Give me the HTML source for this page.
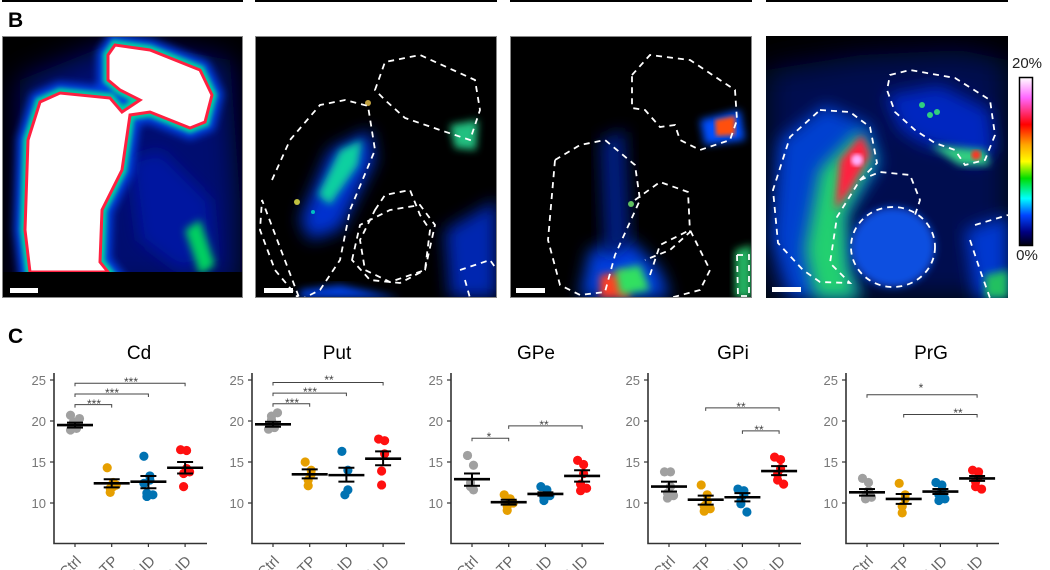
<!DOCTYPE html>
<html><head><meta charset="utf-8">
<style>
html,body{margin:0;padding:0;background:#fff;}
body{width:1050px;height:570px;overflow:hidden;position:relative;font-family:"Liberation Sans",sans-serif;}
svg{position:absolute;left:0;top:0;}
</style></head>
<body>
<svg width="1050" height="570" viewBox="0 0 1050 570" xmlns="http://www.w3.org/2000/svg">
<defs>
<filter id="b4" x="-30%" y="-30%" width="160%" height="160%"><feGaussianBlur stdDeviation="4"/></filter>
<filter id="b8" x="-30%" y="-30%" width="160%" height="160%"><feGaussianBlur stdDeviation="8"/></filter>
<filter id="b14" x="-40%" y="-40%" width="180%" height="180%"><feGaussianBlur stdDeviation="14"/></filter>
<filter id="b2"><feGaussianBlur stdDeviation="2"/></filter>
<linearGradient id="cb" x1="0" y1="0" x2="0" y2="1">
<stop offset="0" stop-color="#ffffff"/><stop offset="0.12" stop-color="#ff66ff"/><stop offset="0.28" stop-color="#ff0000"/>
<stop offset="0.4" stop-color="#ffa500"/><stop offset="0.5" stop-color="#ffff00"/><stop offset="0.6" stop-color="#00dd00"/>
<stop offset="0.72" stop-color="#00ffff"/><stop offset="0.82" stop-color="#0044ff"/><stop offset="0.92" stop-color="#000080"/><stop offset="1" stop-color="#000010"/>
</linearGradient>
<clipPath id="c1"><rect x="2" y="36" width="241" height="262"/></clipPath>
<clipPath id="c2"><rect x="255" y="36" width="242" height="262"/></clipPath>
<clipPath id="c3"><rect x="510" y="36" width="242" height="262"/></clipPath>
<clipPath id="c4"><rect x="766" y="36" width="242" height="262"/></clipPath>
</defs>

<rect x="2" y="0" width="241" height="2" fill="#000"/>
<rect x="255" y="0" width="242" height="2" fill="#000"/>
<rect x="510" y="0" width="242" height="2" fill="#000"/>
<rect x="766" y="0" width="242" height="2" fill="#000"/>

<text x="8" y="27" font-size="21" font-weight="bold" fill="#000">B</text>
<text x="8" y="343" font-size="21" font-weight="bold" fill="#000">C</text>

<!-- Panel 1 -->
<g clip-path="url(#c1)">
<rect x="2" y="36" width="241" height="262" fill="#000"/>
<path d="M20 80 L120 40 L230 60 L240 200 L240 290 L20 290 Z" fill="#000a70" filter="url(#b14)"/>
<path d="M130 160 L160 150 L210 200 L215 260 L180 270 L140 240 Z" fill="#0018a0" filter="url(#b8)"/>
<path d="M185 230 L200 220 L215 265 L200 275 Z" fill="#00d060" filter="url(#b4)"/>
<path d="M28 140 L40 102 L60 93 L110 98 L122 112 L140 100 L120 90 L108 80 L108 55 L115 45 L150 50 L200 70 L212 95 L205 122 L190 128 L150 112 L130 115 L122 170 L102 210 L100 262 L108 272 L30 272 L25 230 Z" fill="#0060ff" stroke="#0040e0" stroke-width="22" filter="url(#b4)"/>
<path d="M28 140 L40 102 L60 93 L110 98 L122 112 L140 100 L120 90 L108 80 L108 55 L115 45 L150 50 L200 70 L212 95 L205 122 L190 128 L150 112 L130 115 L122 170 L102 210 L100 262 L108 272 L30 272 L25 230 Z" fill="#00e080" stroke="#00d0a0" stroke-width="10" filter="url(#b2)"/>
<path d="M28 140 L40 102 L60 93 L110 98 L122 112 L140 100 L120 90 L108 80 L108 55 L115 45 L150 50 L200 70 L212 95 L205 122 L190 128 L150 112 L130 115 L122 170 L102 210 L100 262 L108 272 L30 272 L25 230 Z" fill="#fff" stroke="#ff2040" stroke-width="3"/>
<rect x="2" y="272" width="241" height="26" fill="#000"/>
<rect x="10" y="288" width="28" height="5" fill="#fff"/>
</g>
<rect x="2.5" y="36.5" width="240" height="261" fill="none" stroke="#888" stroke-width="1"/>

<!-- Panel 2 -->
<g clip-path="url(#c2)">
<rect x="255" y="36" width="242" height="262" fill="#000"/>
<path d="M300 220 L330 150 L370 130 L375 160 L340 230 L310 240 Z" fill="#0030d0" filter="url(#b8)"/>
<path d="M318 195 L340 150 L362 140 L358 165 L330 205 Z" fill="#10d0a0" filter="url(#b4)"/>
<path d="M445 230 L497 200 L497 298 L450 298 Z" fill="#0028b0" filter="url(#b8)"/>
<path d="M450 125 L478 120 L476 150 L455 148 Z" fill="#20c080" filter="url(#b4)"/>
<path d="M300 290 L340 285 L400 298 L300 298 Z" fill="#0040e0" filter="url(#b4)"/>
<circle cx="368" cy="103" r="3" fill="#c0a040"/><circle cx="297" cy="202" r="3" fill="#c0c040"/><circle cx="313" cy="212" r="2" fill="#00c0c0"/>
<g fill="none" stroke="#fff" stroke-width="1.8" stroke-dasharray="6,5">
<path d="M272 180 L290 140 L320 105 L345 100 L368 106 L375 150 L350 210 L340 260 L320 290 L300 300"/>
<path d="M300 300 L275 270 L260 230 L262 200 Z" />
<path d="M375 90 L385 62 L420 55 L475 80 L480 110 L470 140 L440 130 L405 118 L385 100 Z"/>
<path d="M375 210 L385 195 L410 190 L420 215 L430 230 L425 270 L390 282 L365 270 L360 240 Z"/>
<path d="M352 260 L360 225 L390 210 L420 205 L435 225 L425 270 L400 283 L370 280 Z"/>
<path d="M460 270 L490 260 L497 270 M465 280 L470 298"/>
</g>
<rect x="264" y="288" width="29" height="5" fill="#fff"/>
</g>
<rect x="255.5" y="36.5" width="241" height="261" fill="none" stroke="#888" stroke-width="1"/>

<!-- Panel 3 -->
<g clip-path="url(#c3)">
<rect x="510" y="36" width="242" height="262" fill="#000"/>
<path d="M590 250 L630 240 L660 270 L670 298 L580 298 Z" fill="#0040e0" filter="url(#b8)"/>
<path d="M600 275 L625 272 L630 298 L600 298 Z" fill="#ff4020" filter="url(#b4)"/>
<path d="M615 270 L640 265 L650 290 L620 295 Z" fill="#30e060" filter="url(#b4)"/>
<path d="M700 120 L740 110 L745 140 L705 145 Z" fill="#0050ff" filter="url(#b4)"/>
<path d="M715 120 L735 116 L735 135 L716 136 Z" fill="#ff5010" filter="url(#b2)"/>
<path d="M735 250 L752 245 L752 298 L735 298 Z" fill="#20b060" filter="url(#b4)"/>
<path d="M600 140 L625 130 L630 240 L605 260 Z" fill="#001a80" filter="url(#b8)"/>
<circle cx="631" cy="204" r="3" fill="#60c060"/>
<g fill="none" stroke="#fff" stroke-width="1.8" stroke-dasharray="6,5">
<path d="M555 160 L580 145 L605 140 L635 165 L640 200 L615 255 L605 292 L580 295 L560 285 L548 240 Z"/>
<path d="M635 200 L660 182 L688 192 L690 232 L670 250 L645 260"/>
<path d="M650 275 L660 245 L690 230 L710 270 L700 290 L670 298"/>
<path d="M632 75 L650 55 L690 60 L735 90 L737 120 L730 140 L700 150 L680 140 L675 125 L660 127 L645 110 L632 108 Z"/>
<path d="M737 255 L749 255 L749 296 L738 296 Z"/>
</g>
<rect x="516" y="288" width="29" height="5" fill="#fff"/>
</g>
<rect x="510.5" y="36.5" width="241" height="261" fill="none" stroke="#888" stroke-width="1"/>

<!-- Panel 4 -->
<g clip-path="url(#c4)">
<rect x="766" y="36" width="242" height="262" fill="#000"/>
<path d="M766 70 L860 55 L960 50 L1008 60 L1008 298 L766 298 Z" fill="#000850" filter="url(#b14)"/>
<path d="M780 140 L825 105 L870 125 L880 165 L845 215 L850 275 L860 298 L790 298 L772 240 Z" fill="#0040d0" filter="url(#b8)"/>
<path d="M820 170 L860 130 L875 160 L845 215 L848 270 L860 298 L815 298 L805 250 Z" fill="#20d070" filter="url(#b8)"/>
<path d="M840 160 L862 135 L870 155 L850 190 L835 210 Z" fill="#ff2040" filter="url(#b4)"/>
<circle cx="857" cy="160" r="6" fill="#ffb0ff" filter="url(#b2)"/>
<ellipse cx="893" cy="247" rx="42" ry="40" fill="#0850e0" filter="url(#b4)"/>
<path d="M885 95 L940 85 L990 110 L995 150 L975 165 L950 150 L925 145 L900 130 Z" fill="#0028c0" filter="url(#b8)"/>
<path d="M930 145 L985 150 L990 165 L960 165 Z" fill="#30d080" filter="url(#b4)"/>
<circle cx="976" cy="155" r="5" fill="#ff3020" filter="url(#b2)"/>
<path d="M965 230 L1008 215 L1008 298 L975 298 Z" fill="#0038d0" filter="url(#b8)"/>
<path d="M985 275 L1008 270 L1008 298 L985 298 Z" fill="#20c060" filter="url(#b4)"/>
<circle cx="922" cy="105" r="3" fill="#30d080"/><circle cx="930" cy="115" r="3" fill="#30d080"/><circle cx="937" cy="112" r="3" fill="#30d080"/>
<g fill="none" stroke="#fff" stroke-width="1.8" stroke-dasharray="6,5">
<path d="M820 110 L850 112 L870 127 L877 163 L860 180 L837 217 L830 263 L850 283 L820 282 L803 270 L778 243 L773 190 L790 137 Z"/>
<ellipse cx="893" cy="247" rx="42" ry="40"/>
<path d="M860 180 L880 172 L910 175 L920 200 L915 215"/>
<path d="M890 75 L910 70 L955 78 L990 100 L995 135 L985 160 L965 165 L955 150 L935 143 L915 130 L895 112 L887 90 Z"/>
<path d="M975 225 L1008 215 M970 240 L980 270 L990 298"/>
</g>
<rect x="772" y="287" width="29" height="5" fill="#fff"/>
</g>

<rect x="1019.5" y="77.5" width="13" height="168" fill="url(#cb)" stroke="#000" stroke-width="1.5"/>
<text x="1027" y="68" font-size="15" text-anchor="middle" fill="#222">20%</text>
<text x="1027" y="260" font-size="15" text-anchor="middle" fill="#222">0%</text>

<g font-size="19" text-anchor="middle" fill="#000">
<text x="139" y="359">Cd</text><text x="337" y="359">Put</text><text x="536" y="359">GPe</text><text x="733" y="359">GPi</text><text x="931" y="359">PrG</text>
</g>
<g font-size="13" fill="#777" text-anchor="end">
<text x="46" y="385">25</text><text x="46" y="426">20</text><text x="46" y="467">15</text><text x="46" y="508">10</text>
<text x="244" y="385">25</text><text x="244" y="426">20</text><text x="244" y="467">15</text><text x="244" y="508">10</text>
<text x="443" y="385">25</text><text x="443" y="426">20</text><text x="443" y="467">15</text><text x="443" y="508">10</text>
<text x="640" y="385">25</text><text x="640" y="426">20</text><text x="640" y="467">15</text><text x="640" y="508">10</text>
<text x="838" y="385">25</text><text x="838" y="426">20</text><text x="838" y="467">15</text><text x="838" y="508">10</text>
</g>
<g font-size="15" fill="#666" text-anchor="end">
<text transform="translate(82,562) rotate(-45)">Ctrl</text><text transform="translate(119,562) rotate(-45)">MPTP</text><text transform="translate(156,562) rotate(-45)">non-LID</text><text transform="translate(192,562) rotate(-45)">LID</text>
<text transform="translate(280,562) rotate(-45)">Ctrl</text><text transform="translate(317,562) rotate(-45)">MPTP</text><text transform="translate(354,562) rotate(-45)">non-LID</text><text transform="translate(390,562) rotate(-45)">LID</text>
<text transform="translate(479,562) rotate(-45)">Ctrl</text><text transform="translate(516,562) rotate(-45)">MPTP</text><text transform="translate(553,562) rotate(-45)">non-LID</text><text transform="translate(589,562) rotate(-45)">LID</text>
<text transform="translate(676,562) rotate(-45)">Ctrl</text><text transform="translate(713,562) rotate(-45)">MPTP</text><text transform="translate(750,562) rotate(-45)">non-LID</text><text transform="translate(786,562) rotate(-45)">LID</text>
<text transform="translate(874,562) rotate(-45)">Ctrl</text><text transform="translate(911,562) rotate(-45)">MPTP</text><text transform="translate(948,562) rotate(-45)">non-LID</text><text transform="translate(984,562) rotate(-45)">LID</text>
</g>
<g font-size="12" fill="#444" text-anchor="middle">
<text x="131" y="386">***</text><text x="112" y="397">***</text><text x="94" y="408">***</text>
<text x="329" y="384">**</text><text x="310" y="396">***</text><text x="292" y="407">***</text>
<text x="489" y="441">*</text><text x="544" y="429">**</text>
<text x="741" y="411">**</text><text x="759" y="434">**</text>
<text x="921" y="392">*</text><text x="958" y="417">**</text>
</g>
<g id="plots"></g>
</svg>
<script>
(function(){
var NS="http://www.w3.org/2000/svg",g=document.getElementById("plots");
function el(t,a){var e=document.createElementNS(NS,t);for(var k in a)e.setAttribute(k,a[k]);g.appendChild(e);return e;}
function Y(v){return 503-(v-10)*8.2;}
var X0=[54,252,451,648,846];
var cols=["#a0a0a0","#e69f00","#0072b2","#ff1010"];
var D=[
 {g:[[19.5,19.8,19.2,[18.9,19.1,19.3,19.6,19.9,20.3,20.7]],[12.4,12.9,11.9,[14.3,12.5,12.0,11.8,11.3,12.2]],[12.6,13.3,11.8,[15.7,13.3,12.8,11.2,10.8,11.0,12.4]],[14.3,15.0,13.6,[16.5,16.4,14.2,13.6,12.0,13.8]]],
  br:[[0,3,24.6],[0,2,23.3],[0,1,22]]},
 {g:[[19.6,19.9,19.3,[19.0,19.2,19.5,20.1,20.6,21.0]],[13.5,14.1,13.0,[15.0,14.0,13.5,12.8,12.1]],[13.4,14.3,12.6,[16.3,14.0,11.6,11.0]],[15.4,16.3,14.6,[17.8,17.6,16.0,13.9,12.2]]],
  br:[[0,3,24.7],[0,2,23.4],[0,1,22.1]]},
 {g:[[12.9,13.6,12.1,[15.8,14.6,11.6,12.0,12.5]],[10.1,10.4,9.8,[11.0,10.5,10.2,9.6,9.1,10.0]],[11.1,11.3,10.9,[12.0,11.6,11.2,10.7,10.3,10.9]],[13.3,14.0,12.6,[15.2,14.7,13.6,12.3,11.5,11.8]]],
  br:[[0,1,17.9],[1,3,19.4]]},
 {g:[[12.0,12.6,11.4,[13.8,13.8,12.0,11.2,10.6,10.9]],[10.4,10.9,9.8,[12.2,11.0,10.2,9.6,9.0,9.3]],[10.7,11.2,10.2,[11.7,11.5,11.0,10.3,9.9,8.9]],[13.9,14.5,13.4,[15.6,15.3,14.2,13.5,12.8,12.3]]],
  br:[[1,3,21.6],[2,3,18.8]]},
 {g:[[11.3,11.7,10.9,[13.0,12.5,11.5,10.8,10.5,10.7]],[10.5,11.1,9.9,[12.4,11.0,10.5,9.6,8.8]],[11.4,11.7,11.1,[12.5,12.2,11.6,11.0,10.3,10.5]],[13.0,13.3,12.7,[14.0,13.8,13.2,12.6,12.0,11.7]]],
  br:[[0,3,23.2],[1,3,20.8]]}
];
D.forEach(function(d,c){
 var x0=X0[c];
 el("path",{d:"M"+x0+" 373 L"+x0+" 543.5 L"+(x0+153)+" 543.5",fill:"none",stroke:"#333","stroke-width":1.6});
 [25,20,15,10].forEach(function(v){el("line",{x1:x0-4,x2:x0,y1:Y(v),y2:Y(v),stroke:"#333","stroke-width":1.2});});
 for(var i=0;i<4;i++){var cx=x0+21+36.7*i;el("line",{x1:cx,x2:cx,y1:543,y2:547,stroke:"#333","stroke-width":1.2});}
 d.br.forEach(function(b){var xa=x0+21+36.7*b[0],xb=x0+21+36.7*b[1],y=Y(b[2]);
  el("path",{d:"M"+xa+" "+(y+3)+" L"+xa+" "+y+" L"+xb+" "+y+" L"+xb+" "+(y+3),fill:"none",stroke:"#444","stroke-width":1});});
 d.g.forEach(function(s,i){var cx=x0+21+36.7*i;
  s[3].forEach(function(v,j){var off=((j%3)-1)*3+(j%2?1.5:-1.5);el("circle",{cx:cx+off,cy:Y(v),r:4.6,fill:cols[i]});});
  el("line",{x1:cx-18,x2:cx+18,y1:Y(s[0]),y2:Y(s[0]),stroke:"#000","stroke-width":2.6});
  el("line",{x1:cx-8,x2:cx+8,y1:Y(s[1]),y2:Y(s[1]),stroke:"#000","stroke-width":2});
  el("line",{x1:cx-8,x2:cx+8,y1:Y(s[2]),y2:Y(s[2]),stroke:"#000","stroke-width":2});
  el("line",{x1:cx,x2:cx,y1:Y(s[1]),y2:Y(s[2]),stroke:"#000","stroke-width":2});
 });
});
})();
</script>
</body></html>
